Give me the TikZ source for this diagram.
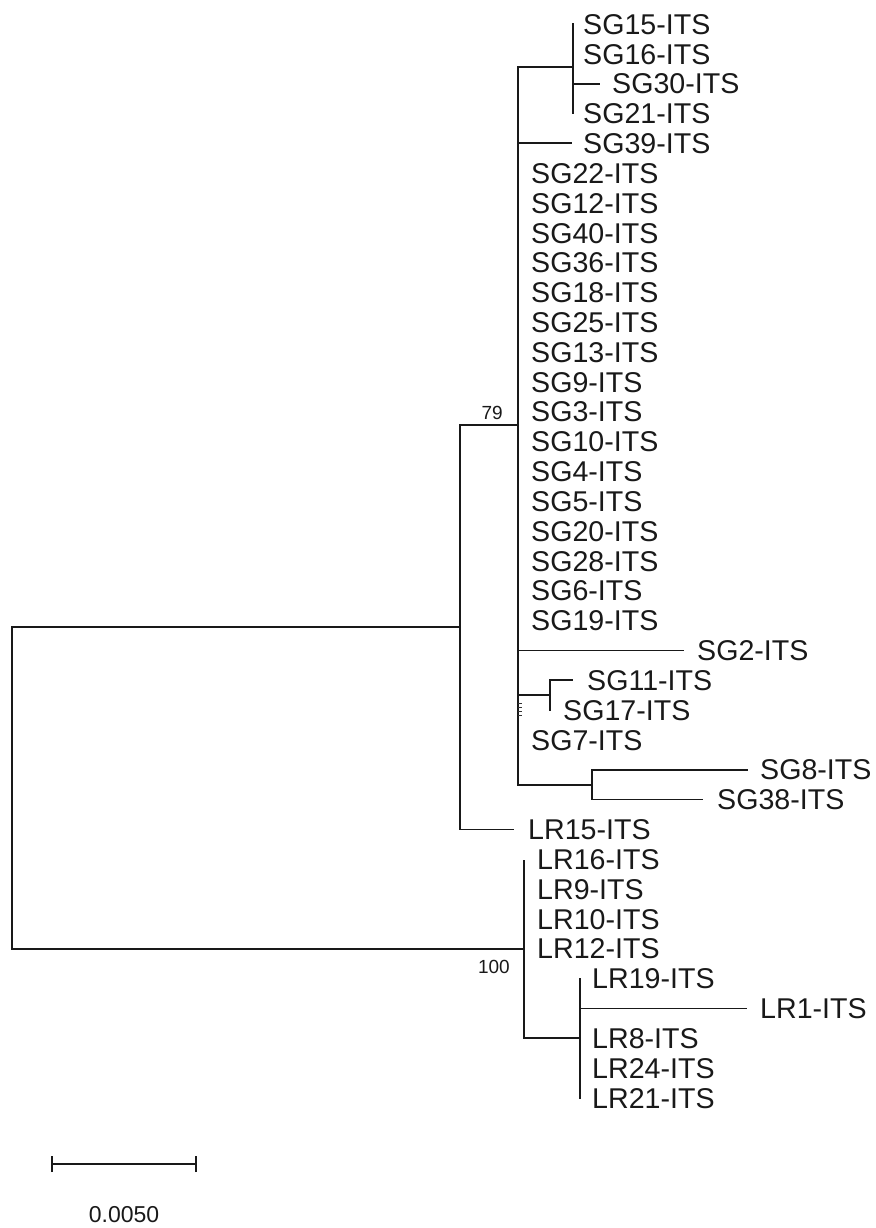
\documentclass[tikz,border=0pt]{standalone}
\usepackage{fontspec}
\setmainfont{Liberation Sans}
\begin{document}
\begin{tikzpicture}[x=1pt,y=-1pt,
  branch/.style={line width=1.7pt,line cap=rect,black!90},
  leaf/.style={anchor=base west,inner sep=0pt,font=\fontsize{28.6}{30}\selectfont,text=black!90},
  boot/.style={anchor=base east,inner sep=0pt,font=\fontsize{19}{20}\selectfont,text=black!90},
  scaletext/.style={anchor=base,inner sep=0pt,font=\fontsize{23}{24}\selectfont,text=black!90}]
\useasboundingbox (0,0) rectangle (875,1228);
% row positions
\foreach \i in {0,...,36}{\pgfmathsetmacro{\yy}{24+29.83*\i}\expandafter\xdef\csname row\i\endcsname{\yy}}
% leaf labels
\newcommand{\leafat}[4]{\node[leaf] (#1) at (#2,{\csname row#3\endcsname+10.2}) {#4};}
\leafat{SG15}{583}{0}{SG15-ITS}
\leafat{SG16}{583}{1}{SG16-ITS}
\leafat{SG30}{612}{2}{SG30-ITS}
\leafat{SG21}{583}{3}{SG21-ITS}
\leafat{SG39}{583}{4}{SG39-ITS}
\leafat{SG22}{531}{5}{SG22-ITS}
\leafat{SG12}{531}{6}{SG12-ITS}
\leafat{SG40}{531}{7}{SG40-ITS}
\leafat{SG36}{531}{8}{SG36-ITS}
\leafat{SG18}{531}{9}{SG18-ITS}
\leafat{SG25}{531}{10}{SG25-ITS}
\leafat{SG13}{531}{11}{SG13-ITS}
\leafat{SG9}{531}{12}{SG9-ITS}
\leafat{SG3}{531}{13}{SG3-ITS}
\leafat{SG10}{531}{14}{SG10-ITS}
\leafat{SG4}{531}{15}{SG4-ITS}
\leafat{SG5}{531}{16}{SG5-ITS}
\leafat{SG20}{531}{17}{SG20-ITS}
\leafat{SG28}{531}{18}{SG28-ITS}
\leafat{SG6}{531}{19}{SG6-ITS}
\leafat{SG19}{531}{20}{SG19-ITS}
\leafat{SG2}{697}{21}{SG2-ITS}
\leafat{SG11}{587}{22}{SG11-ITS}
\leafat{SG17}{563}{23}{SG17-ITS}
\leafat{SG7}{531}{24}{SG7-ITS}
\leafat{SG8}{760}{25}{SG8-ITS}
\leafat{SG38}{717}{26}{SG38-ITS}
\leafat{LR15}{528}{27}{LR15-ITS}
\leafat{LR16}{537}{28}{LR16-ITS}
\leafat{LR9}{537}{29}{LR9-ITS}
\leafat{LR10}{537}{30}{LR10-ITS}
\leafat{LR12}{537}{31}{LR12-ITS}
\leafat{LR19}{592}{32}{LR19-ITS}
\leafat{LR1}{760}{33}{LR1-ITS}
\leafat{LR8}{592}{34}{LR8-ITS}
\leafat{LR24}{592}{35}{LR24-ITS}
\leafat{LR21}{592}{36}{LR21-ITS}
% internal nodes and tips
\coordinate (root) at (12,787);
\coordinate (A) at (460,627);
\coordinate (B) at (518,425);
\coordinate (C) at (573,67);
\coordinate (D) at (550,695);
\coordinate (E) at (592,785);
\coordinate (F) at (524,949);
\coordinate (G) at (580,1038);
\coordinate (Ctop) at (573,\csname row0\endcsname);
\coordinate (Cbot) at (573,\csname row3\endcsname);
\coordinate (tSG30) at (599,\csname row2\endcsname);
\coordinate (tSG39) at (571,\csname row4\endcsname);
\coordinate (tSG2) at (683,\csname row21\endcsname);
\coordinate (tSG11) at (572,\csname row22\endcsname);
\coordinate (Dbot) at (550,\csname row23\endcsname);
\coordinate (tSG8) at (747,\csname row25\endcsname);
\coordinate (tSG38) at (702,\csname row26\endcsname);
\coordinate (tLR15) at (513,\csname row27\endcsname);
\coordinate (Ftop) at (524,861);
\coordinate (Gtop) at (580,\csname row32\endcsname);
\coordinate (Gbot) at (580,\csname row36\endcsname);
\coordinate (tLR1) at (746,\csname row33\endcsname);
% branches
\draw[branch] (A) -| (root) |- (F);
\draw[branch] (B) -| (A) |- (tLR15);
\draw[branch] (C) -| (B) |- (E);
\draw[branch] (Ctop) -- (Cbot);
\draw[branch] (C |- tSG30) -- (tSG30);
\draw[branch] (B |- tSG39) -- (tSG39);
\draw[branch] (B |- tSG2) -- (tSG2);
\draw[branch] (B |- D) -- (D);
\draw[branch] (D |- tSG11) -- (Dbot);
\draw[branch] (D |- tSG11) -- (tSG11);
\draw[branch] (tSG8) -| (E) |- (tSG38);
\draw[branch] (Ftop) |- (G);
\draw[branch] (Gtop) -- (Gbot);
\draw[branch] (G |- tLR1) -- (tLR1);
% tiny ticks near SG17
\foreach \t in {703,707,711,715}{\draw[line width=0.9pt,black!80] (518,\t) -- (521.5,\t);}
% bootstrap values
\node[boot] (b79) at (503,419) {79};
\node[boot] (b100) at (510,973.5) {100};
% scale bar
\coordinate (s1) at (52,1164);
\coordinate (s2) at (196,1164);
\draw[branch,line cap=butt] (s1) -- (s2);
\draw[branch,line cap=butt] ([yshift=-8]s1) -- ([yshift=8]s1);
\draw[branch,line cap=butt] ([yshift=-8]s2) -- ([yshift=8]s2);
\node[scaletext] (scl) at (124,1222.5) {0.0050};
\end{tikzpicture}
\end{document}
